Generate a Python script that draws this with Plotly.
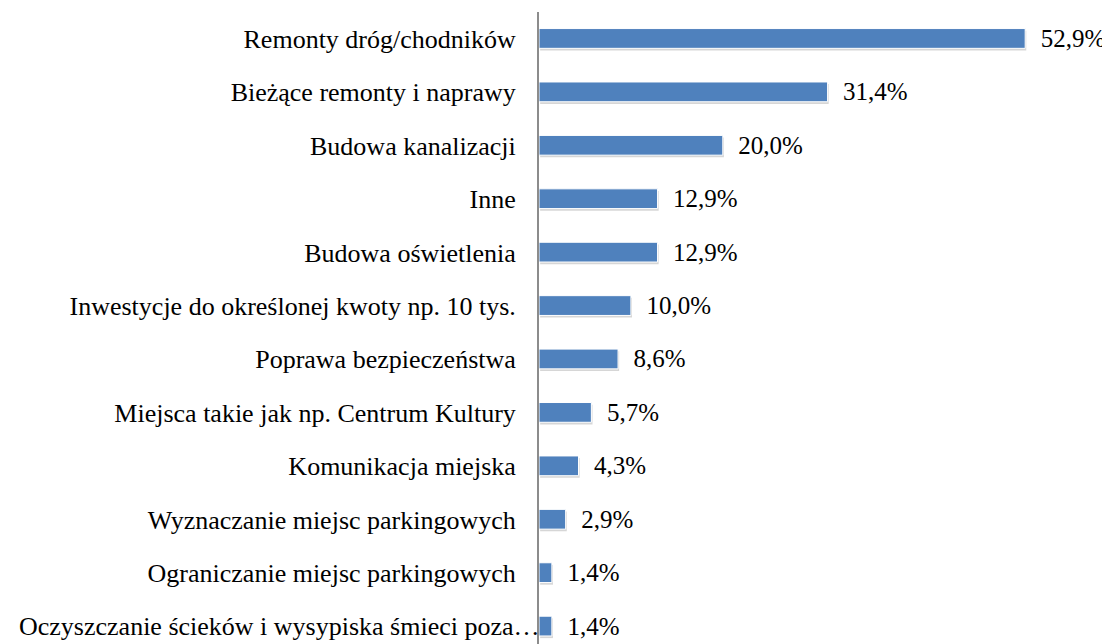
import plotly.graph_objects as go

categories = [
    "Remonty dróg/chodników",
    "Bieżące remonty i naprawy",
    "Budowa kanalizacji",
    "Inne",
    "Budowa oświetlenia",
    "Inwestycje do określonej kwoty np. 10 tys.",
    "Poprawa bezpieczeństwa",
    "Miejsca takie jak np. Centrum Kultury",
    "Komunikacja miejska",
    "Wyznaczanie miejsc parkingowych",
    "Ograniczanie miejsc parkingowych",
    "Oczyszczanie ścieków i wysypiska śmieci poza…",
]
values = [52.9, 31.4, 20.0, 12.9, 12.9, 10.0, 8.6, 5.7, 4.3, 2.9, 1.4, 1.4]
labels = [f"{v:.1f}%".replace(".", ",") for v in values]

FONT = "Liberation Serif, Times New Roman, serif"

# the last (longest) label sits closer to the axis in the reference -> drawn as annotation
tick_text = categories[:-1] + [""]

fig = go.Figure()
# soft shadow behind bars (bottom-right)
fig.add_trace(go.Bar(
    y=categories, x=values, orientation="h", base=0.12,
    marker=dict(color="rgba(0,0,0,0.16)", line=dict(width=0)),
    width=0.37, offset=-0.15,
    hoverinfo="skip", showlegend=False,
))
fig.add_trace(go.Bar(
    y=categories, x=values, orientation="h",
    marker=dict(color="#4F81BD", line=dict(color="white", width=1)),
    width=0.37, offset=-0.19,
    text=["  " + t for t in labels], textposition="outside",
    textfont=dict(family=FONT, size=25, color="black"),
    cliponaxis=False, constraintext="none",
    showlegend=False,
))

fig.add_annotation(
    x=0, xref="paper", y=categories[-1], yref="y",
    text=categories[-1], showarrow=False,
    xanchor="right", xshift=3,
    font=dict(family=FONT, size=26, color="black"),
)

fig.update_layout(
    width=1110, height=644,
    margin=dict(l=531, r=0, t=4, b=0, autoexpand=False),
    plot_bgcolor="white", paper_bgcolor="white",
    barmode="overlay",
    xaxis=dict(range=[0, 63.0], visible=False, showgrid=False, zeroline=False,
               automargin=False),
    yaxis=dict(
        range=[11.48, -0.5], type="category",
        tickmode="array", tickvals=categories, ticktext=tick_text,
        showline=True, linecolor="#8c8c8c", linewidth=2,
        ticks="", showgrid=False, zeroline=False, automargin=False,
        tickfont=dict(family=FONT, size=26, color="black"),
        ticklabelstandoff=16,
    ),
    font=dict(family=FONT),
)

fig.write_html("out.html")
